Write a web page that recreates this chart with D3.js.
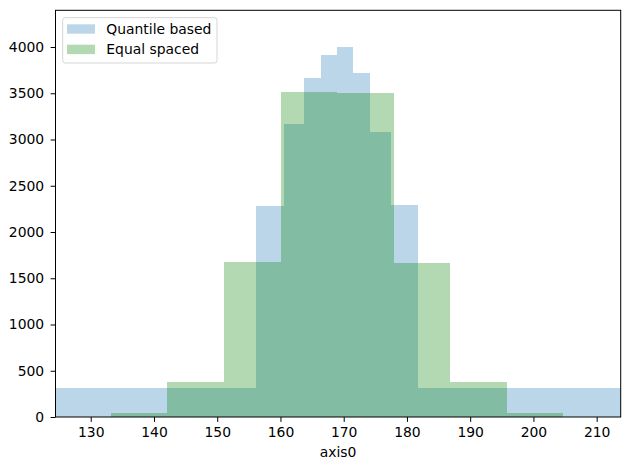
<!DOCTYPE html>
<html lang="en">
  <head>
    <meta charset="utf-8">
    <title>Quantile vs equal spaced histogram</title>
    <script src="https://d3js.org/d3.v7.js"></script>
    <style>
      body { margin: 0; background: white; }
      svg { display: block; font-family: "DejaVu Sans", sans-serif; }
    </style>
  </head>

  <body>
    <svg></svg>

  <script>

// Histogram data

  var quantileEdges = [124.43, 156.13, 160.56, 163.72, 166.40, 168.94, 171.47, 174.15, 177.47, 181.74, 213.80];
  var quantileHeights = [313, 2281, 3168, 3665, 3914, 4000, 3719, 3081, 2292, 313];

  var equalEdges = [124.43, 133.2, 142.1, 151.05, 160.05, 168.94, 177.9, 186.8, 195.8, 204.65, 213.80];
  var equalHeights = [0, 43, 378, 1676, 3514, 3503, 1665, 378, 43, 0];

  var xTicks = [130, 140, 150, 160, 170, 180, 190, 200, 210];
  var yTicks = [0, 500, 1000, 1500, 2000, 2500, 3000, 3500, 4000];

  var seriesNames = ["Quantile based", "Equal spaced"];
  var seriesColors = ["#1f77b4", "#008000"];

  var w = 629;
  var h = 470;
  var margin = {top: 10.3, right: 8.3, bottom: 53, left: 55.5};
  var innerWidth = w - margin.left - margin.right;
  var innerHeight = h - margin.top - margin.bottom;
  var fontSize = 13.9;

  var svg = d3.select("svg")
      .attr("width", w)
      .attr("height", h);

  var xScale = d3.scaleLinear()
      .domain([124.43, 213.80])
      .range([0, innerWidth]);

  var yScale = d3.scaleLinear()
      .domain([0, 4397])
      .range([innerHeight, 0]);

  function toBins(edges, heights) {
    return heights.map((v, i) => ({x0: edges[i], x1: edges[i + 1], value: v}));
  }

  var series = [toBins(quantileEdges, quantileHeights), toBins(equalEdges, equalHeights)];

  svg.append("defs").append("clipPath")
      .attr("id", "clip")
    .append("rect")
      .attr("width", innerWidth)
      .attr("height", innerHeight);

  var plot = svg.append("g")
      .attr("transform", `translate(${margin.left}, ${margin.top})`);

  var bars = plot.append("g")
      .attr("clip-path", "url(#clip)");

  series.forEach(function(bins, k) {
    bars.append("g")
        .attr("fill", seriesColors[k])
        .attr("fill-opacity", 0.3)
        .attr("shape-rendering", "crispEdges")
      .selectAll("rect")
      .data(bins.filter(d => d.value > 0))
      .enter().append("rect")
        .attr("x", d => xScale(d.x0))
        .attr("y", d => yScale(d.value))
        .attr("width", d => xScale(d.x1) - xScale(d.x0))
        .attr("height", d => innerHeight - yScale(d.value));
  });

// Axes

  var xAxis = plot.append("g")
      .attr("transform", `translate(0, ${innerHeight})`)
      .call(d3.axisBottom(xScale).tickValues(xTicks).tickSize(4.9).tickPadding(5).tickSizeOuter(0));

  var yAxis = plot.append("g")
      .call(d3.axisLeft(yScale).tickValues(yTicks).tickFormat(d3.format("d"))
        .tickSize(4.9).tickPadding(6.4).tickSizeOuter(0));

  [xAxis, yAxis].forEach(function(ax) {
    ax.select(".domain").remove();
    ax.selectAll("text")
        .attr("font-family", "DejaVu Sans, sans-serif")
        .attr("font-size", fontSize)
        .attr("fill", "#000");
    ax.selectAll("line").attr("stroke", "#000");
  });

  plot.append("rect")
      .attr("width", innerWidth)
      .attr("height", innerHeight)
      .attr("fill", "none")
      .attr("stroke", "#000")
      .attr("stroke-width", 1);

  svg.append("text")
      .attr("x", margin.left + innerWidth / 2)
      .attr("y", 456.7)
      .attr("text-anchor", "middle")
      .attr("font-size", fontSize)
      .text("axis0");

// Legend

  var legend = svg.append("g")
      .attr("transform", "translate(62.7, 17.7)");

  legend.append("rect")
      .attr("width", 154.3)
      .attr("height", 45.3)
      .attr("rx", 2.5)
      .attr("fill", "white")
      .attr("fill-opacity", 0.8)
      .attr("stroke", "#d5d5d5")
      .attr("stroke-width", 1);

  var items = legend.selectAll(".item")
      .data(seriesNames)
      .enter().append("g")
      .attr("class", "item")
      .attr("transform", (d, i) => `translate(4.3, ${6.6 + i * 20.4})`);

  items.append("rect")
      .attr("width", 28)
      .attr("height", 9.4)
      .attr("fill", (d, i) => seriesColors[i])
      .attr("fill-opacity", 0.3);

  items.append("text")
      .attr("x", 39.3)
      .attr("y", 4.7)
      .attr("dy", "0.35em")
      .attr("font-size", fontSize)
      .text(d => d);

    </script>

  </body>

</html>
